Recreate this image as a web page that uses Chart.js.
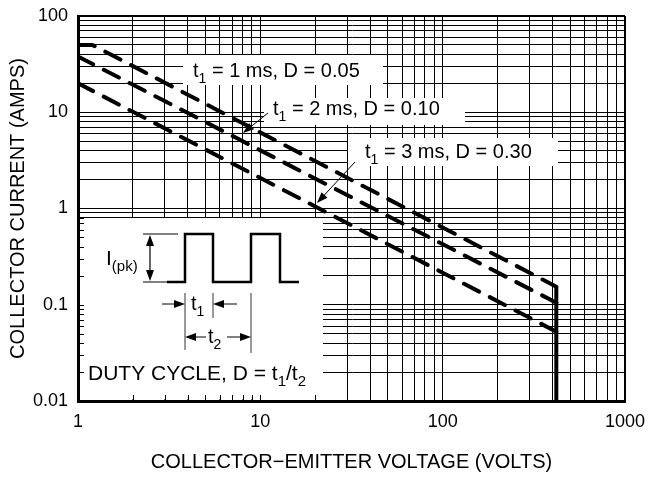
<!DOCTYPE html>
<html><head><meta charset="utf-8">
<script src="https://cdn.jsdelivr.net/npm/chart.js@4/dist/chart.umd.min.js"></script>
<style>html,body{margin:0;padding:0;background:#fff}</style>
</head><body>
<canvas id="c" width="657" height="477"></canvas>
<script>
const FONT = '"Liberation Sans", Arial, Helvetica, sans-serif';

// ---- data ----
const voltsD005 = [1, 1.2, 420];
const ampsD005  = [50, 50, 0.154];
const voltsD010 = [1, 420];
const ampsD010  = [38, 0.105];
const voltsD030 = [1, 420];
const ampsD030  = [20, 0.0525];
const voltsLimit = [420, 420];
const ampsLimit  = [0.154, 0.01];

const xGridValues = [1,2,3,4,5,6,7,8,9,10,20,30,40,50,60,70,80,90,100,200,300,400,500,600,700,800,900,1000];
const yGridValues = [0.01,0.02,0.03,0.04,0.05,0.06,0.07,0.08,0.09,0.1,0.2,0.3,0.4,0.5,0.6,0.7,0.8,0.9,1,2,3,4,5,6,7,8,9,10,20,30,40,50,60,70,80,90,100];
const xTickValues = [1, 10, 100, 1000];
const xTickLabels = ['1', '10', '100', '1000'];
const yTickValues = [0.01, 0.1, 1, 10, 100];
const yTickLabels = ['0.01', '0.1', '1', '10', '100'];

const curveLabelRest = [' = 1 ms, D = 0.05', ' = 2 ms, D = 0.10', ' = 3 ms, D = 0.30'];

function pts(xs, ys) { return xs.map((x, i) => ({x: x, y: ys[i]})); }

const dashed = {borderColor: '#000', borderWidth: 4, borderDash: [17, 12], pointRadius: 0, fill: false, tension: 0, borderCapStyle: 'round'};

function drawRich(ctx, parts, x, y, size) {
  let cx = x;
  for (const p of parts) {
    if (p.sub) {
      ctx.font = Math.round(size * 0.7) + 'px ' + FONT;
      ctx.fillText(p.t, cx, y + size * 0.28);
    } else {
      ctx.font = size + 'px ' + FONT;
      ctx.fillText(p.t, cx, y);
    }
    cx += ctx.measureText(p.t).width;
  }
  return cx;
}
function arrowHead(ctx, x1, y1, x2, y2, len, half) {
  const a = Math.atan2(y2 - y1, x2 - x1);
  ctx.beginPath();
  ctx.moveTo(x2, y2);
  ctx.lineTo(x2 - len * Math.cos(a) + half * Math.sin(a), y2 - len * Math.sin(a) - half * Math.cos(a));
  ctx.lineTo(x2 - len * Math.cos(a) - half * Math.sin(a), y2 - len * Math.sin(a) + half * Math.cos(a));
  ctx.closePath();
  ctx.fill();
}
function arrow(ctx, x1, y1, x2, y2, lw) {
  ctx.lineWidth = lw || 1;
  const a = Math.atan2(y2 - y1, x2 - x1);
  ctx.beginPath();
  ctx.moveTo(x1, y1);
  ctx.lineTo(x2 - 6 * Math.cos(a), y2 - 6 * Math.sin(a));
  ctx.stroke();
  arrowHead(ctx, x1, y1, x2, y2, 11, 4);
}
function line(ctx, pts, lw) {
  ctx.lineWidth = lw;
  ctx.beginPath();
  ctx.moveTo(pts[0][0], pts[0][1]);
  for (let i = 1; i < pts.length; i++) ctx.lineTo(pts[i][0], pts[i][1]);
  ctx.stroke();
}

const overlay = {
  id: 'overlay',
  beforeDatasetsDraw(chart) {
    const ctx = chart.ctx, a = chart.chartArea;
    const X = chart.scales.x, Y = chart.scales.y;
    const L = a.left, T = a.top;
    ctx.save();
    ctx.fillStyle = '#fff';
    // label boxes
    ctx.fillRect(L + 105, T + 39, 200, 30);
    ctx.fillRect(L + 186, T + 82, 201, 27);
    ctx.fillRect(L + 270, T + 122, 210, 28);
    // inset box
    ctx.fillRect(L + 2, T + 202, 243, a.bottom - T - 203.5);
    // inward ticks inside inset box
    ctx.strokeStyle = '#000';
    ctx.lineWidth = 1;
    for (const v of yGridValues) {
      const py = Math.round(Y.getPixelForValue(v)) + 0.5;
      if (py > T + 202 && py < a.bottom - 2) { ctx.beginPath(); ctx.moveTo(L, py); ctx.lineTo(L + 6, py); ctx.stroke(); }
    }
    for (const v of xGridValues) {
      const px = Math.round(X.getPixelForValue(v)) + 0.5;
      if (px > L + 2 && px < L + 245) { ctx.beginPath(); ctx.moveTo(px, a.bottom); ctx.lineTo(px, a.bottom - 6); ctx.stroke(); }
    }
    ctx.restore();
  },
  afterDatasetsDraw(chart) {
    const ctx = chart.ctx, a = chart.chartArea;
    const L = a.left, T = a.top;
    ctx.save();
    ctx.fillStyle = '#000';
    ctx.strokeStyle = '#000';
    ctx.textBaseline = 'alphabetic';
    ctx.textAlign = 'left';
    const lx = [L + 115, L + 195, L + 287];
    const ly = [T + 61, T + 99, T + 142];
    for (let i = 0; i < 3; i++) {
      drawRich(ctx, [{t: 't'}, {t: '1', sub: true}, {t: curveLabelRest[i]}], lx[i], ly[i], 20);
    }
    // pointer arrows
    arrow(ctx, L + 190, T + 97, L + 165, T + 117, 1);
    arrow(ctx, L + 277, T + 146, L + 239, T + 187, 1);

    // inset pulse diagram
    ctx.lineJoin = 'miter';
    line(ctx, [[L+89,T+266],[L+107,T+266],[L+107,T+218],[L+135,T+218],[L+135,T+266],[L+173,T+266],[L+173,T+218],[L+202,T+218],[L+202,T+266],[L+221,T+266]], 2.5);
    line(ctx, [[L+65,T+218],[L+100,T+218]], 1);
    line(ctx, [[L+65,T+266],[L+89,T+266]], 1);
    // I(pk) double arrow
    line(ctx, [[L+72,T+226],[L+72,T+258]], 1.2);
    arrowHead(ctx, L+72, T+240, L+72, T+219, 11, 4);
    arrowHead(ctx, L+72, T+244, L+72, T+265, 11, 4);
    drawRich(ctx, [{t: 'I'}, {t: '(pk)', sub: true}], L + 28, T + 249, 21);
    // t1 / t2 extension lines
    ctx.strokeStyle = '#333';
    line(ctx, [[L+107,T+277],[L+107,T+334]], 1);
    line(ctx, [[L+135,T+277],[L+135,T+302]], 1);
    line(ctx, [[L+173,T+277],[L+173,T+337]], 1);
    ctx.strokeStyle = '#000';
    arrow(ctx, L + 84, T + 288, L + 107, T + 288, 1);
    arrow(ctx, L + 159, T + 288, L + 135, T + 288, 1);
    drawRich(ctx, [{t: 't'}, {t: '1', sub: true}], L + 113, T + 294, 20);
    arrow(ctx, L + 128, T + 321, L + 107, T + 321, 1);
    arrow(ctx, L + 149, T + 321, L + 173, T + 321, 1);
    drawRich(ctx, [{t: 't'}, {t: '2', sub: true}], L + 130, T + 327, 20);
    drawRich(ctx, [{t: 'DUTY CYCLE, D = t'}, {t: '1', sub: true}, {t: '/t'}, {t: '2', sub: true}], L + 10, T + 364, 21);
    ctx.restore();
  }
};

new Chart(document.getElementById('c'), {
  type: 'line',
  data: {
    datasets: [
      Object.assign({data: pts(voltsD005, ampsD005)}, dashed),
      Object.assign({data: pts(voltsD010, ampsD010)}, dashed),
      Object.assign({data: pts(voltsD030, ampsD030)}, dashed),
      {data: pts(voltsLimit, ampsLimit), borderColor: '#000', borderWidth: 4, pointRadius: 0, fill: false, borderCapStyle: 'butt'}
    ]
  },
  options: {
    responsive: false,
    animation: false,
    devicePixelRatio: 1,
    layout: {padding: {left: 0, top: 16, right: 32, bottom: 0}},
    plugins: {legend: {display: false}, tooltip: {enabled: false}},
    scales: {
      x: {
        type: 'logarithmic', min: 1, max: 1000,
        afterBuildTicks: s => { s.ticks = xGridValues.map(v => ({value: v})); },
        afterFit: s => { s.height = 76; s.paddingLeft = 0; s.paddingRight = 0; },
        grid: {color: '#000', lineWidth: c => (c.tick && c.tick.value === 1000 ? 2 : 1), drawTicks: false},
        border: {display: true, color: '#000', width: 3},
        ticks: {
          autoSkip: false, maxRotation: 0, padding: 10, color: '#000',
          font: {family: FONT, size: 18},
          callback: v => { const i = xTickValues.indexOf(v); return i >= 0 ? xTickLabels[i] : ''; }
        },
        title: {display: true, text: 'COLLECTOR\u2212EMITTER VOLTAGE (VOLTS)', color: '#000', font: {family: FONT, size: 20}, padding: {top: 3, bottom: 3}}
      },
      y: {
        type: 'logarithmic', min: 0.01, max: 100,
        afterBuildTicks: s => { s.ticks = yGridValues.map(v => ({value: v})); },
        afterFit: s => { s.width = 78; s.paddingTop = 0; s.paddingBottom = 0; },
        grid: {color: '#000', lineWidth: c => (c.tick && c.tick.value === 100 ? 2 : 1), drawTicks: false},
        border: {display: true, color: '#000', width: 3},
        ticks: {
          autoSkip: false, padding: 10, color: '#000',
          font: {family: FONT, size: 18},
          callback: v => { const i = yTickValues.findIndex(t => Math.abs(t - v) < t * 1e-6); return i >= 0 ? yTickLabels[i] : ''; }
        },
        title: {display: true, text: 'COLLECTOR CURRENT (AMPS)', color: '#000', font: {family: FONT, size: 20}, padding: {top: 6, bottom: 6}}
      }
    }
  },
  plugins: [overlay]
});
</script>
</body></html>
